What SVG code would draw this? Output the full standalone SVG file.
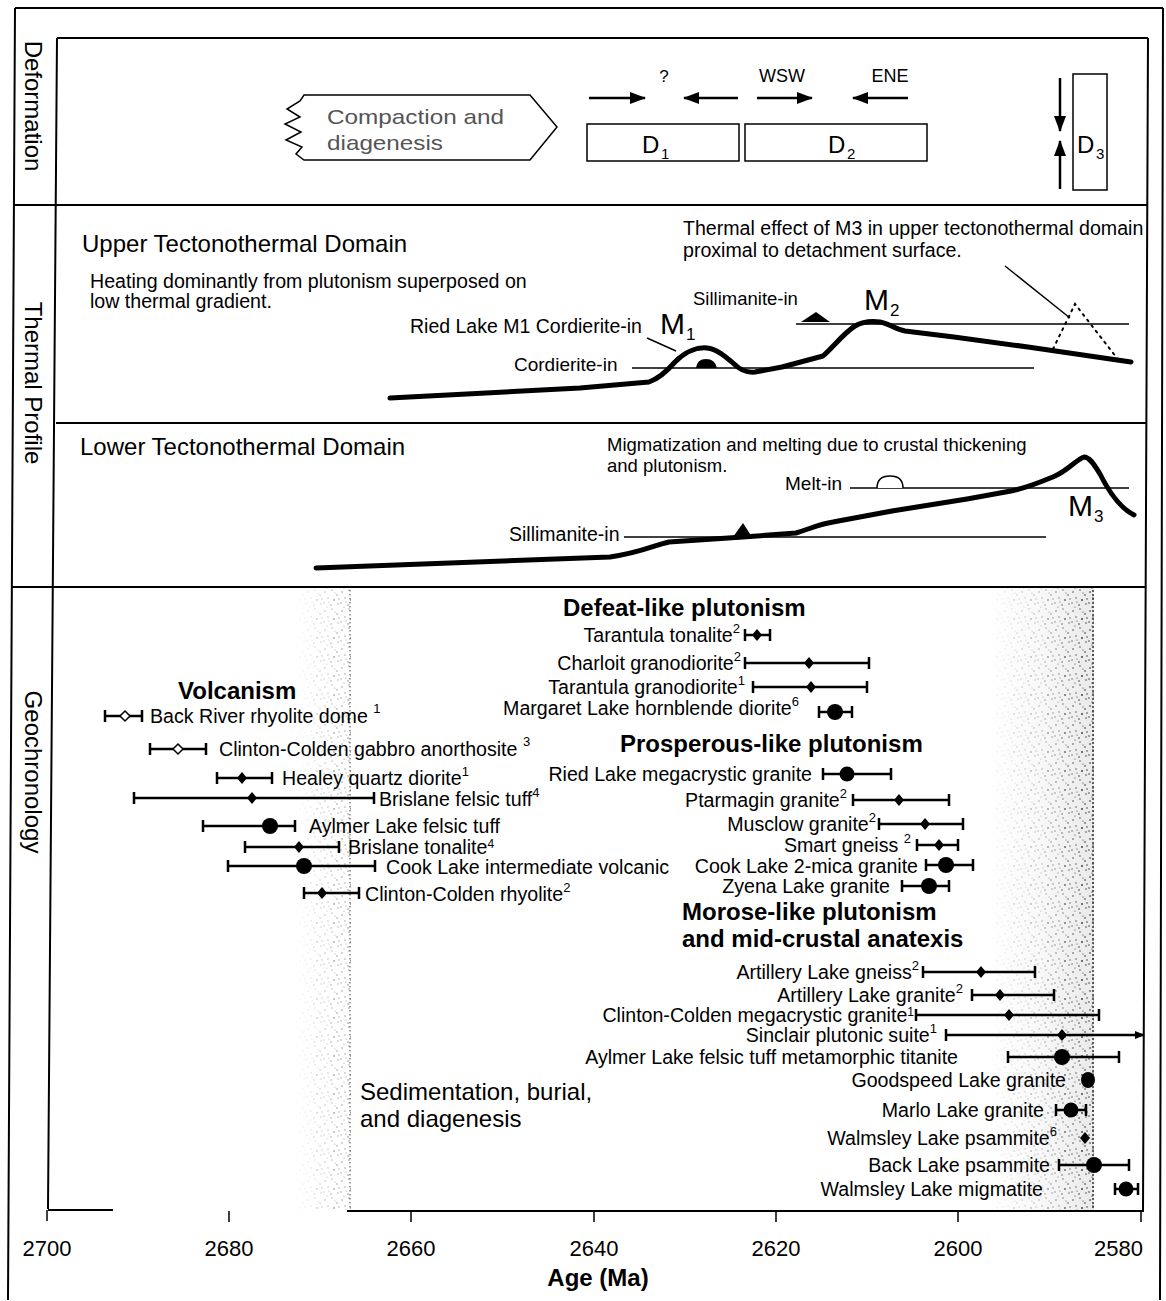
<svg xmlns="http://www.w3.org/2000/svg" width="1166" height="1301" viewBox="0 0 1166 1301">
<style>
.t{font-family:"Liberation Sans",Arial,Helvetica,sans-serif;fill:#000}
.lab{font-size:19.6px}
.sm{font-size:19px}
.sup{font-size:13px}
.sup2{font-size:12px}
.hd{font-size:24px;font-weight:bold}
.big{font-size:24px}
.eb{stroke:#000;stroke-width:2.5;fill:none}
.thick{stroke:#000;stroke-width:5;fill:none;stroke-linejoin:round;stroke-linecap:round}
.thin{stroke:#000;stroke-width:1.5;fill:none}
.frame{stroke:#000;stroke-width:2;fill:none}
.dm{fill:#000}
.odm{fill:#fff;stroke:#000;stroke-width:1.5}
.arr{stroke:#000;stroke-width:2.5;fill:none}
</style>
<defs>
<marker id="ah" markerUnits="userSpaceOnUse" markerWidth="16" markerHeight="12" refX="15" refY="6" orient="auto">
<path d="M0,0 L16,6 L0,12 Z" fill="#000"/>
</marker>
<marker id="ahs" markerUnits="userSpaceOnUse" markerWidth="10" markerHeight="8" refX="9" refY="4" orient="auto">
<path d="M0,0 L10,4 L0,8 Z" fill="#000"/>
</marker>
<pattern id="dots" width="17" height="19" patternUnits="userSpaceOnUse">
<circle cx="2" cy="3" r="0.8"/><circle cx="9" cy="1" r="0.7"/><circle cx="14" cy="6" r="0.8"/>
<circle cx="5" cy="9" r="0.7"/><circle cx="11" cy="11" r="0.9"/><circle cx="1" cy="14" r="0.7"/>
<circle cx="8" cy="16" r="0.8"/><circle cx="15" cy="15" r="0.7"/><circle cx="4" cy="18" r="0.6"/>
<circle cx="12" cy="4" r="0.6"/><circle cx="16" cy="10" r="0.7"/><circle cx="6" cy="13" r="0.6"/>
</pattern>
<linearGradient id="gR" gradientUnits="userSpaceOnUse" x1="990" y1="0" x2="1093" y2="0">
<stop offset="0" stop-color="#000"/><stop offset="0.5" stop-color="#555"/><stop offset="1" stop-color="#fff"/>
</linearGradient>
<linearGradient id="gL" gradientUnits="userSpaceOnUse" x1="295" y1="0" x2="350" y2="0">
<stop offset="0" stop-color="#000"/><stop offset="1" stop-color="#777"/>
</linearGradient>
<mask id="mR"><rect x="990" y="588" width="104" height="622" fill="url(#gR)"/></mask>
<mask id="mL"><rect x="295" y="588" width="56" height="622" fill="url(#gL)"/></mask>
</defs>

<!-- frame -->
<g id="frame">
<path class="frame" d="M15,8 H1163 M15,8 L8,1300 M1163,8 L1160,1300"/>
<path class="frame" d="M57,38 H1148 M57,38 L48,1209 M1148,38 L1143,1212"/>
<path class="frame" d="M14,205 H1148 M56,423 H1147 M11,587 H1146"/>
</g>

<!-- stipple bands -->
<g id="bands">
<rect x="990" y="588" width="104" height="622" fill="url(#dots)" mask="url(#mR)"/>
<rect x="990" y="588" width="104" height="622" fill="#888" fill-opacity="0.18" mask="url(#mR)"/>
<line x1="1093" y1="590" x2="1093" y2="1210" stroke="#333" stroke-width="1.5" stroke-dasharray="2 2"/>
<rect x="295" y="588" width="56" height="622" fill="url(#dots)" mask="url(#mL)"/>
<line x1="350" y1="590" x2="350" y2="1210" stroke="#666" stroke-width="1.2" stroke-dasharray="1.5 2.5"/>
</g>

<!-- side labels -->
<g id="side-labels">
<text class="t big" transform="translate(33,106) rotate(90)" text-anchor="middle" dominant-baseline="central">Deformation</text>
<text class="t big" transform="translate(33,383) rotate(90)" text-anchor="middle" dominant-baseline="central">Thermal Profile</text>
<text class="t big" transform="translate(33,772) rotate(90)" text-anchor="middle" dominant-baseline="central">Geochronology</text>
</g>

<!-- Deformation panel -->
<g id="compaction">
<path d="M304,95 H530 L557,127 L530,160 H304 L296,154 L302,147 L286,140 L301,132 L285,124 L300,117 L287,109 L300,101 Z" fill="#fff" stroke="#000" stroke-width="1.5"/>
<text class="t" x="327" y="124" font-size="21" style="fill:#555" textLength="177" lengthAdjust="spacingAndGlyphs">Compaction and</text>
<text class="t" x="327" y="150" font-size="21" style="fill:#555" textLength="116" lengthAdjust="spacingAndGlyphs">diagenesis</text>
</g>
<g id="D1">
<rect x="587" y="124" width="152" height="37" fill="#fff" stroke="#000" stroke-width="1.5"/>
<text class="t" x="642" y="153" font-size="24">D</text><text class="t" x="661" y="159" font-size="15">1</text>
</g>
<g id="D2">
<rect x="745" y="124" width="182" height="37" fill="#fff" stroke="#000" stroke-width="1.5"/>
<text class="t" x="828" y="153" font-size="24">D</text><text class="t" x="847" y="159" font-size="15">2</text>
</g>
<g id="D3">
<rect x="1073" y="74" width="34" height="116" fill="#fff" stroke="#000" stroke-width="1.5"/>
<text class="t" x="1077" y="153" font-size="24">D</text><text class="t" x="1096" y="159" font-size="15">3</text>
</g>
<g id="deformation-arrows">
<line class="arr" x1="589" y1="98" x2="645" y2="98" marker-end="url(#ah)"/>
<line class="arr" x1="738" y1="98" x2="684" y2="98" marker-end="url(#ah)"/>
<line class="arr" x1="757" y1="98" x2="812" y2="98" marker-end="url(#ah)"/>
<line class="arr" x1="908" y1="98" x2="853" y2="98" marker-end="url(#ah)"/>
<line class="arr" x1="1060" y1="78" x2="1060" y2="131" marker-end="url(#ah)"/>
<line class="arr" x1="1060" y1="189" x2="1060" y2="141" marker-end="url(#ah)"/>
<text class="t" x="664" y="82" font-size="17" text-anchor="middle">?</text>
<text class="t" x="782" y="82" font-size="18" text-anchor="middle">WSW</text>
<text class="t" x="890" y="82" font-size="18" text-anchor="middle">ENE</text>
</g>

<!-- Upper thermal -->
<g id="upper-thermal">
<text class="t big" x="82" y="252">Upper Tectonothermal Domain</text>
<text class="t lab" x="90" y="288">Heating dominantly from plutonism superposed on</text>
<text class="t lab" x="90" y="308">low thermal gradient.</text>
<text class="t lab" x="683" y="235">Thermal effect of M3 in upper tectonothermal domain</text>
<text class="t lab" x="683" y="257">proximal to detachment surface.</text>
<line class="thin" x1="1005" y1="266" x2="1070" y2="318"/>
<path d="M1053,349 L1075,304 L1120,362" fill="none" stroke="#000" stroke-width="2" stroke-dasharray="2 5" stroke-linecap="round"/>
<text class="t" x="693" y="305" font-size="18.5">Sillimanite-in</text>
<path d="M801,322 L816,312 L830,322 Z" fill="#000"/>
<line class="thin" x1="796" y1="324" x2="1129" y2="324"/>
<text class="t" x="410" y="333" font-size="19.5">Ried Lake M1 Cordierite-in</text>
<line class="thin" x1="647" y1="338" x2="676" y2="351"/>
<text class="t sm" x="514" y="371">Cordierite-in</text>
<line class="thin" x1="632" y1="368" x2="1034" y2="368"/>
<path d="M696,368 Q697,359 706,359 Q715,359 717,368 Z" fill="#000"/>
<path class="thick" d="M390,398 L580,388 L649,382 C660,378 668,370 675,362 C685,352 697,347 707,348 C717,349 726,357 733,363 C740,370 746,373 755,372 L782,367 L823,356 C832,348 845,332 855,326 C862,322 872,321 880,322 C890,324 895,329 905,331 L954,337 L1028,347 L1131,362"/>
<text class="t" x="660" y="334" font-size="30">M</text><text class="t" x="686" y="340" font-size="17">1</text>
<text class="t" x="864" y="310" font-size="30">M</text><text class="t" x="890" y="316" font-size="17">2</text>
</g>

<!-- Lower thermal -->
<g id="lower-thermal">
<text class="t big" x="80" y="455">Lower Tectonothermal Domain</text>
<text class="t" x="607" y="451" font-size="18.5">Migmatization and melting due to crustal thickening</text>
<text class="t" x="607" y="472" font-size="18.5">and plutonism.</text>
<text class="t sm" x="785" y="490">Melt-in</text>
<line class="thin" x1="850" y1="488" x2="1129" y2="488"/>
<path d="M877,488 Q877,476 890,476 Q903,476 903,488" fill="#fff" stroke="#000" stroke-width="1.5"/>
<text class="t" x="509" y="541" font-size="19.5">Sillimanite-in</text>
<line class="thin" x1="624" y1="537" x2="1046" y2="537"/>
<path d="M733,537 L743,523 L752,537 Z" fill="#000"/>
<path class="thick" d="M316,568 L610,557 C640,553 655,545 669,542 L743,537 L796,533 C812,528 820,524 833,522 L892,511 L967,499 L1011,491 C1030,487 1045,480 1055,476 C1068,470 1076,460 1084,457 C1090,457 1095,466 1100,474 C1108,490 1120,508 1134,515"/>
<text class="t" x="1068" y="516" font-size="30">M</text><text class="t" x="1094" y="522" font-size="17">3</text>
</g>

<!-- Geochronology headers -->
<g id="headers">
<text class="t hd" x="178" y="699">Volcanism</text>
<text class="t hd" x="563" y="616">Defeat-like plutonism</text>
<text class="t hd" x="620" y="752">Prosperous-like plutonism</text>
<text class="t hd" x="682" y="920">Morose-like plutonism</text>
<text class="t hd" x="682" y="947">and mid-crustal anatexis</text>
<text class="t" x="360" y="1100" font-size="24">Sedimentation, burial,</text>
<text class="t" x="360" y="1127" font-size="24">and diagenesis</text>
</g>

<!-- Volcanism -->
<g id="back-river"><path class="eb" d="M105,716 H142 M105,710 v12 M142,710 v12"/><polygon class="odm" points="125,711 130,716 125,721 120,716"/>
<text class="t lab" x="150" y="723">Back River rhyolite dome <tspan class="sup" dy="-10">1</tspan></text></g>
<g id="cc-gabbro"><path class="eb" d="M150,749 H206 M150,743 v12 M206,743 v12"/><polygon class="odm" points="178,744 183,749 178,754 173,749"/>
<text class="t lab" x="219" y="756">Clinton-Colden gabbro anorthosite <tspan class="sup" dy="-10">3</tspan></text></g>
<g id="healey"><path class="eb" d="M217,778 H272 M217,772 v12 M272,772 v12"/><polygon class="dm" points="242,772 247,778 242,784 237,778"/>
<text class="t lab" x="282" y="785">Healey quartz diorite<tspan class="sup" dy="-9">1</tspan></text></g>
<g id="brislane-tuff"><path class="eb" d="M134,798 H374 M134,792 v12 M374,792 v12"/><polygon class="dm" points="252,792 257,798 252,804 247,798"/>
<text class="t lab" x="379" y="806">Brislane felsic tuff<tspan class="sup" dy="-9">4</tspan></text></g>
<g id="aylmer-tuff"><path class="eb" d="M203,826 H295 M203,820 v12 M295,820 v12"/><circle cx="270" cy="826" r="8"/>
<text class="t lab" x="309" y="833">Aylmer Lake felsic tuff</text></g>
<g id="brislane-tonalite"><path class="eb" d="M245,847 H339 M245,841 v12 M339,841 v12"/><polygon class="dm" points="299,841 304,847 299,853 294,847"/>
<text class="t lab" x="348" y="854">Brislane tonalite<tspan class="sup2" dy="-6">4</tspan></text></g>
<g id="cook-volcanic"><path class="eb" d="M228,866 H375 M228,860 v12 M375,860 v12"/><circle cx="304" cy="866" r="8"/>
<text class="t lab" x="386" y="874">Cook Lake intermediate volcanic</text></g>
<g id="cc-rhyolite"><path class="eb" d="M304,893 H359 M304,887 v12 M359,887 v12"/><polygon class="dm" points="322,887 327,893 322,899 317,893"/>
<text class="t lab" x="365" y="901">Clinton-Colden rhyolite<tspan class="sup" dy="-9">2</tspan></text></g>

<!-- Defeat-like -->
<g id="tarantula-tonalite"><path class="eb" d="M745,635 H770 M745,629 v12 M770,629 v12"/><polygon class="dm" points="757,629 762,635 757,641 752,635"/>
<text class="t lab" x="740" y="642" text-anchor="end">Tarantula tonalite<tspan class="sup" dy="-9">2</tspan></text></g>
<g id="charloit"><path class="eb" d="M745,663 H869 M745,657 v12 M869,657 v12"/><polygon class="dm" points="809,657 814,663 809,669 804,663"/>
<text class="t lab" x="741" y="670" text-anchor="end">Charloit granodiorite<tspan class="sup" dy="-9">2</tspan></text></g>
<g id="tarantula-gd"><path class="eb" d="M753,687 H867 M753,681 v12 M867,681 v12"/><polygon class="dm" points="811,681 816,687 811,693 806,687"/>
<text class="t lab" x="745" y="694" text-anchor="end">Tarantula granodiorite<tspan class="sup" dy="-9">1</tspan></text></g>
<g id="margaret"><path class="eb" d="M819,712 H852 M819,706 v12 M852,706 v12"/><circle cx="835" cy="712" r="8"/>
<text class="t lab" x="799" y="715" text-anchor="end">Margaret Lake hornblende diorite<tspan class="sup" dy="-9">6</tspan></text></g>

<!-- Prosperous-like -->
<g id="ried"><path class="eb" d="M823,774 H891 M823,768 v12 M891,768 v12"/><circle cx="847" cy="774" r="7.5"/>
<text class="t lab" x="812" y="781" text-anchor="end">Ried Lake megacrystic granite</text></g>
<g id="ptarmagin"><path class="eb" d="M853,800 H949 M853,794 v12 M949,794 v12"/><polygon class="dm" points="899,794 904,800 899,806 894,800"/>
<text class="t lab" x="847" y="807" text-anchor="end">Ptarmagin granite<tspan class="sup" dy="-9">2</tspan></text></g>
<g id="musclow"><path class="eb" d="M879,824 H963 M879,818 v12 M963,818 v12"/><polygon class="dm" points="925,818 930,824 925,830 920,824"/>
<text class="t lab" x="876" y="831" text-anchor="end">Musclow granite<tspan class="sup" dy="-9">2</tspan></text></g>
<g id="smart"><path class="eb" d="M917,845 H958 M917,839 v12 M958,839 v12"/><polygon class="dm" points="939,839 944,845 939,851 934,845"/>
<text class="t lab" x="911" y="852" text-anchor="end">Smart gneiss <tspan class="sup" dy="-9">2</tspan></text></g>
<g id="cook-2mica"><path class="eb" d="M926,865 H973 M926,859 v12 M973,859 v12"/><circle cx="946" cy="865" r="8"/>
<text class="t lab" x="918" y="873" text-anchor="end">Cook Lake 2-mica granite</text></g>
<g id="zyena"><path class="eb" d="M902,886 H949 M902,880 v12 M949,880 v12"/><circle cx="929" cy="886" r="8"/>
<text class="t lab" x="890" y="893" text-anchor="end">Zyena Lake granite</text></g>

<!-- Morose-like -->
<g id="artillery-gneiss"><path class="eb" d="M923,972 H1035 M923,966 v12 M1035,966 v12"/><polygon class="dm" points="981,966 986,972 981,978 976,972"/>
<text class="t lab" x="919" y="979" text-anchor="end">Artillery Lake gneiss<tspan class="sup" dy="-9">2</tspan></text></g>
<g id="artillery-granite"><path class="eb" d="M972,995 H1054 M972,989 v12 M1054,989 v12"/><polygon class="dm" points="1000,989 1005,995 1000,1001 995,995"/>
<text class="t lab" x="963" y="1002" text-anchor="end">Artillery Lake granite<tspan class="sup" dy="-9">2</tspan></text></g>
<g id="cc-megacrystic"><path class="eb" d="M916,1015 H1099 M916,1009 v12 M1099,1009 v12"/><polygon class="dm" points="1009,1009 1014,1015 1009,1021 1004,1015"/>
<text class="t lab" x="914" y="1022" text-anchor="end">Clinton-Colden megacrystic granite<tspan class="sup2" dy="-6">1</tspan></text></g>
<g id="sinclair"><path class="eb" d="M946,1029 v12"/><line class="eb" x1="946" y1="1035" x2="1144" y2="1035" stroke-width="2" marker-end="url(#ahs)"/><polygon class="dm" points="1062,1029 1067,1035 1062,1041 1057,1035"/>
<text class="t lab" x="937" y="1042" text-anchor="end">Sinclair plutonic suite<tspan class="sup" dy="-9">1</tspan></text></g>
<g id="aylmer-titanite"><path class="eb" d="M1008,1057 H1119 M1008,1051 v12 M1119,1051 v12"/><circle cx="1062" cy="1057" r="8"/>
<text class="t lab" x="958" y="1064" text-anchor="end">Aylmer Lake felsic tuff metamorphic titanite</text></g>
<g id="goodspeed"><ellipse cx="1088" cy="1080" rx="7" ry="8"/>
<text class="t lab" x="1066" y="1087" text-anchor="end">Goodspeed Lake granite</text></g>
<g id="marlo"><path class="eb" d="M1056,1110 H1086 M1056,1104 v12 M1086,1104 v12"/><circle cx="1071" cy="1110" r="7.5"/>
<text class="t lab" x="1044" y="1117" text-anchor="end">Marlo Lake granite</text></g>
<g id="walmsley-psammite"><polygon class="dm" points="1085,1132 1090,1138 1085,1144 1080,1138"/>
<text class="t lab" x="1057" y="1145" text-anchor="end">Walmsley Lake psammite<tspan class="sup" dy="-9">6</tspan></text></g>
<g id="back-lake"><path class="eb" d="M1059,1165 H1129 M1059,1159 v12 M1129,1159 v12"/><circle cx="1094" cy="1165" r="8"/>
<text class="t lab" x="1050" y="1172" text-anchor="end">Back Lake psammite</text></g>
<g id="walmsley-migmatite"><path class="eb" d="M1115,1189 H1138 M1115,1183 v12 M1138,1183 v12"/><circle cx="1126" cy="1189" r="7.5"/>
<text class="t lab" x="1043" y="1196" text-anchor="end">Walmsley Lake migmatite</text></g>

<!-- axis -->
<g id="axis">
<path class="frame" d="M48,1210 H113 M347,1211 H1143"/>
<path class="thin" d="M47,1210 v11 M229,1211 v11 M411,1211 v11 M594,1211 v11 M776,1211 v11 M958,1211 v11 M1141,1211 v11"/>
<g class="t" font-size="22" text-anchor="middle">
<text x="47" y="1256">2700</text><text x="229" y="1256">2680</text><text x="411" y="1256">2660</text>
<text x="594" y="1256">2640</text><text x="776" y="1256">2620</text><text x="958" y="1256">2600</text>
<text x="1143" y="1256" text-anchor="end">2580</text>
</g>
<text class="t hd" x="598" y="1286" text-anchor="middle">Age (Ma)</text>
</g>
</svg>
